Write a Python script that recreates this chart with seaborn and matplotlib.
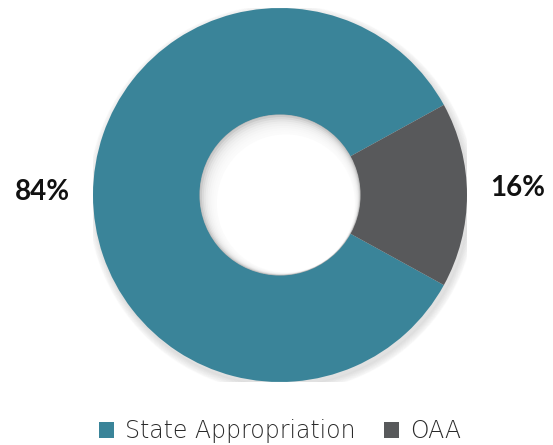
import matplotlib
matplotlib.use("Agg")
import matplotlib.pyplot as plt
import seaborn as sns
import numpy as np

sns.set_theme(style="white")
plt.rcParams['font.family'] = ['Lato', 'DejaVu Sans']

categories = ["State Appropriation", "OAA"]
values = [84, 16]
labels = ["84%", "16%"]
colors = ["#3a8499", "#58595b"]

W, H = 553, 445
fig = plt.figure(figsize=(W/100, H/100), dpi=100)
cx, cy, R = 280, 195, 187
ax = fig.add_axes([(cx-R)/W, (H-cy-R)/H, 2*R/W, 2*R/H])
ax.set_xlim(-1, 1); ax.set_ylim(-1, 1)
ax.set_aspect('equal'); ax.axis('off')

inner = 80/187
# soft outer shadow
for i in range(10):
    c = plt.Circle((0.012, -0.02), 1.0 + 0.004*i, color='black', alpha=0.012, zorder=0)
    ax.add_patch(c)

wedges, _ = ax.pie(values, colors=colors, startangle=28.8, counterclock=True,
                   radius=1.0, wedgeprops=dict(width=1-inner, linewidth=0),
                   center=(0, 0), frame=False)
ax.set_xlim(-1.0, 1.0); ax.set_ylim(-1.0, 1.0)

# inner shadow in hole
hole_r = inner
ax.add_patch(plt.Circle((0, 0), hole_r + 0.003, color='#b4b4b4', zorder=2.9, linewidth=0))
n = 10
for i in range(n):
    r = hole_r - 0.0065*i
    c = plt.Circle((0.0035*i, -0.005*i), r, color=(1, 1, 1), alpha=0.3 if i < n-1 else 1.0,
                   zorder=3+i*0.01, linewidth=0)
    ax.add_patch(c)

fig.text(42/W, 1-192/H, labels[0], ha='center', va='center', fontsize=20, fontweight='bold', color='#111111')
fig.text(518/W, 1-188/H, labels[1], ha='center', va='center', fontsize=20, fontweight='bold', color='#111111')

# legend
from matplotlib.patches import Patch
handles = [Patch(facecolor=c, edgecolor='none') for c in colors]
leg = fig.legend(handles, categories, loc='center', bbox_to_anchor=(280/W, 1-431/H), ncol=2,
           frameon=False, fontsize=17, handlelength=0.65, handleheight=0.65,
           handletextpad=0.45, columnspacing=1.2, labelcolor='#2a2a2a')
for t in leg.get_texts():
    t.set_family(['DejaVu Sans'])
    t.set_fontweight('light')

fig.savefig("out.png", dpi=100, facecolor='white')
